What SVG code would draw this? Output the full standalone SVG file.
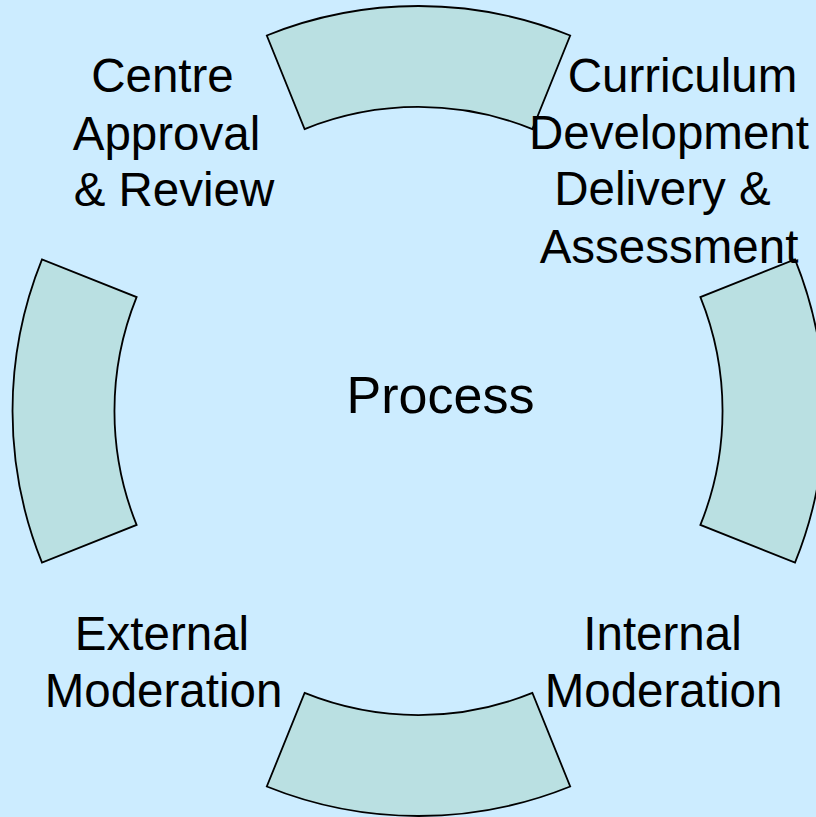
<svg xmlns="http://www.w3.org/2000/svg" width="816" height="817" viewBox="0 0 816 817">
<style>
.seg{fill:#BAE0E2;stroke:#000;stroke-width:1.8;stroke-linejoin:miter}
.lbl{font-family:"Liberation Sans",Arial,sans-serif;font-size:47.5px;fill:#000;text-anchor:middle}
.big{font-size:52px}
</style>
<rect width="816" height="817" fill="#CCECFF"/>
<g id="seg-top"><path class="seg" d="M 266.8 35.5 A 405 405 0 0 1 570.2 35.5 L 532.4 129.1 A 304 304 0 0 0 304.6 129.1 Z"/></g>
<g id="seg-right"><path class="seg" d="M 795 259.3 A 405 405 0 0 1 795 562.7 L 700.4 524.9 A 304 304 0 0 0 700.4 297.1 Z"/></g>
<g id="seg-bottom"><path class="seg" d="M 570.2 786.5 A 405 405 0 0 1 266.8 786.5 L 304.6 692.9 A 304 304 0 0 0 532.4 692.9 Z"/></g>
<g id="seg-left"><path class="seg" d="M 42 562.7 A 405 405 0 0 1 42 259.3 L 136.6 297.1 A 304 304 0 0 0 136.6 524.9 Z"/></g>
<g id="label-centre">
<text class="lbl" x="162.5" y="92">Centre</text>
<text class="lbl" x="166.5" y="150">Approval</text>
<text class="lbl" x="174" y="206">&amp; Review</text>
</g>
<g id="label-curriculum">
<text class="lbl" x="682.5" y="92">Curriculum</text>
<text class="lbl" x="669" y="149">Development</text>
<text class="lbl" x="662.5" y="205">Delivery &amp;</text>
<text class="lbl" x="669" y="263">Assessment</text>
</g>
<g id="label-process"><text class="lbl big" x="440.5" y="413">Process</text></g>
<g id="label-external">
<text class="lbl" x="162" y="650">External</text>
<text class="lbl" x="163.5" y="707">Moderation</text>
</g>
<g id="label-internal">
<text class="lbl" x="662.5" y="650">Internal</text>
<text class="lbl" x="663.5" y="707">Moderation</text>
</g>
<g id="connectors"></g>
</svg>
